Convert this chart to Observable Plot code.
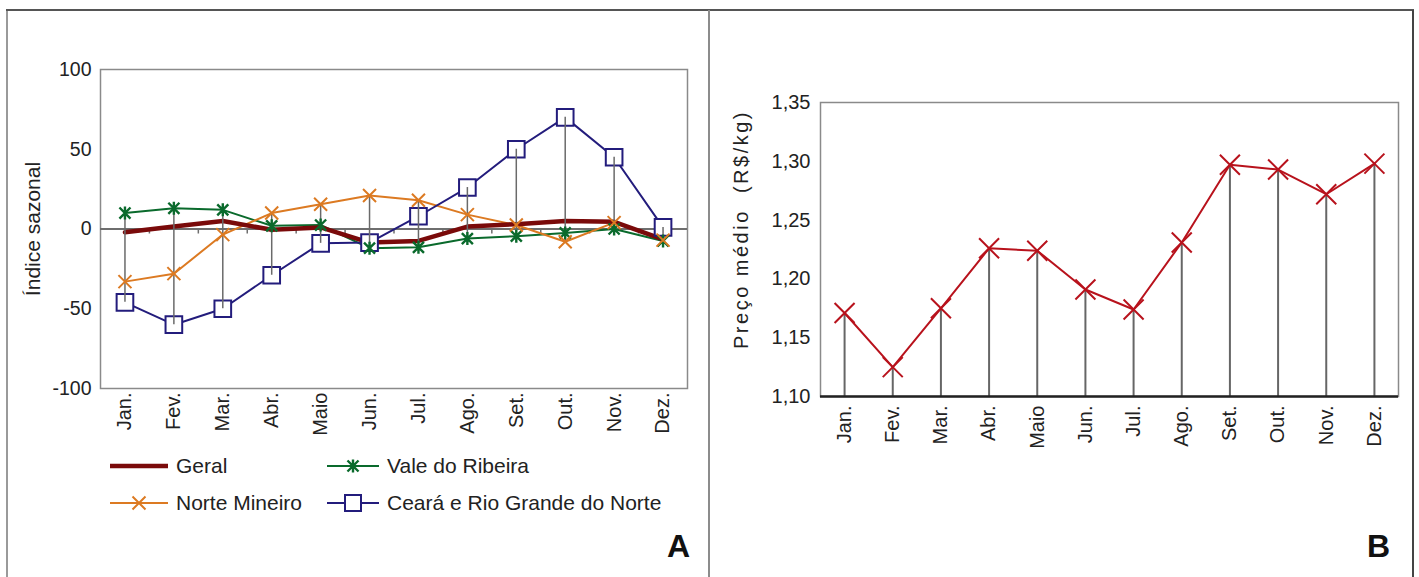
<!DOCTYPE html>
<html lang="pt">
<head>
<meta charset="utf-8">
<script src="https://cdn.jsdelivr.net/npm/d3@7"></script>
<script src="https://cdn.jsdelivr.net/npm/@observablehq/plot@0.6"></script>
<style>
  body { margin: 0; background: #fff; font-family: "Liberation Sans", Arial, sans-serif; color: #222; }
  #wrap { position: relative; width: 1419px; height: 577px; overflow: hidden; }
  .abs { position: absolute; }
  .line { position: absolute; }
  .legend-item { position: absolute; display: flex; align-items: center; font-size: 21px; white-space: nowrap; color: #222; }
  .legend-item svg { display: block; margin-right: 8px; }
  .painel { position: absolute; font-family: "Liberation Sans Narrow", "Liberation Sans", Arial, sans-serif; font-weight: bold; font-size: 32px; color: #111; }
</style>
</head>
<body>
<div id="wrap"></div>
<script>
// Meses e índices sazonais por região (painel A)
const meses = ["Jan.", "Fev.", "Mar.", "Abr.", "Maio", "Jun.", "Jul.", "Ago.", "Set.", "Out.", "Nov.", "Dez."];
const geral = [-2, 1.5, 5, -0.5, 1, -8.5, -7.5, 1.5, 3, 5, 4.5, -6.5];
const valeRibeira = [10, 13, 12, 2, 2.5, -12, -11.5, -6, -4.5, -2.5, 0, -7.5];
const norteMineiro = [-33, -28, -3.5, 10, 15.5, 21, 18, 9, 2.5, -8, 4, -7];
const cearaRN = [-46, -60, -50, -29, -9, -8.5, 8, 26, 50, 70, 45, 1];
const ticksIndice = [-100, -50, 0, 50, 100];

// Preço médio mensal (painel B)
const precoMedio = [1.171, 1.125, 1.175, 1.226, 1.224, 1.191, 1.174, 1.231, 1.297, 1.293, 1.272, 1.298];
const ticksPreco = [1.10, 1.15, 1.20, 1.25, 1.30, 1.35];

const series = [
  {nome: "Geral", valores: geral, cor: "#7a0a0a"},
  {nome: "Vale do Ribeira", valores: valeRibeira, cor: "#0a6a2c"},
  {nome: "Norte Mineiro", valores: norteMineiro, cor: "#dc7a22"},
  {nome: "Ceará e Rio Grande do Norte", valores: cearaRN, cor: "#231c7c"}
];

// Tabela longa: uma linha por mês e série
const tabela = series.flatMap(s => s.valores.map((v, i) => ({mes: i + 1, serie: s.nome, valor: v})));
const porSerie = nome => tabela.filter(d => d.serie === nome);

// Linhas máximo-mínimo por mês
const extremos = meses.map((m, i) => {
  const vs = series.map(s => s.valores[i]);
  return {mes: i + 1, min: d3.min(vs), max: d3.max(vs)};
});

const precoTabela = precoMedio.map((p, i) => ({mes: i + 1, preco: p}));

// Símbolos próprios: asterisco (cruz + X) e X simples
const asterisco = {
  draw(ctx, size) {
    const r = Math.sqrt(size / Math.PI), d = r * 0.85;
    ctx.moveTo(0, -r); ctx.lineTo(0, r);
    ctx.moveTo(-d, -d); ctx.lineTo(d, d);
    ctx.moveTo(-d, d); ctx.lineTo(d, -d);
  }
};
const xis = {
  draw(ctx, size) {
    const r = Math.sqrt(size / Math.PI);
    ctx.moveTo(-r, -r); ctx.lineTo(r, r);
    ctx.moveTo(-r, r); ctx.lineTo(r, -r);
  }
};

const fonte = "'Liberation Sans', Arial, sans-serif";
const mesFmt = i => meses[i - 1];
const virgula = d => d.toFixed(2).replace(".", ",");

const wrap = document.getElementById("wrap");

// Painel A
const graficoA = Plot.plot({
  width: 710, height: 577,
  marginLeft: 100, marginRight: 23, marginTop: 69, marginBottom: 189,
  style: {fontFamily: fonte, fontSize: "19px", color: "#222", background: "transparent", overflow: "visible"},
  x: {domain: [0.5, 12.5]},
  y: {domain: [-100, 100]},
  marks: [
    Plot.frame({stroke: "#8a8a8a", strokeWidth: 1.5}),
    Plot.ruleY([0], {stroke: "#6e6e6e", strokeWidth: 2}),
    Plot.ruleX(d3.range(1, 12).map(i => i + 0.5), {x: d => d, y1: 0, y2: 0, insetBottom: -5, stroke: "#6e6e6e", strokeWidth: 1.5}),
    Plot.axisY({ticks: ticksIndice, tickSize: 0, tickPadding: 9, tickFormat: d => String(d), label: null, fontSize: 19.5}),
    Plot.axisX({ticks: d3.range(1, 13), tickSize: 0, tickPadding: 4, tickRotate: -90, tickFormat: mesFmt, label: null, fontSize: 20}),
    Plot.text(["Índice sazonal"], {frameAnchor: "left", textAnchor: "middle", rotate: -90, dx: -67, fontSize: 21, fill: "#222"}),
    Plot.line(porSerie("Vale do Ribeira"), {x: "mes", y: "valor", stroke: series[1].cor, strokeWidth: 2}),
    Plot.line(porSerie("Norte Mineiro"), {x: "mes", y: "valor", stroke: series[2].cor, strokeWidth: 2}),
    Plot.line(porSerie("Ceará e Rio Grande do Norte"), {x: "mes", y: "valor", stroke: series[3].cor, strokeWidth: 2}),
    Plot.line(porSerie("Geral"), {x: "mes", y: "valor", stroke: series[0].cor, strokeWidth: 4.5}),
    Plot.dot(porSerie("Ceará e Rio Grande do Norte"), {x: "mes", y: "valor", symbol: "square", r: 9.4, fill: "#fff", stroke: series[3].cor, strokeWidth: 2}),
    Plot.ruleX(extremos, {x: "mes", y1: "min", y2: "max", stroke: "#6a6a6a", strokeWidth: 1.5}),
    Plot.dot(porSerie("Vale do Ribeira"), {x: "mes", y: "valor", symbol: asterisco, r: 6.5, stroke: series[1].cor, strokeWidth: 2.4}),
    Plot.dot(porSerie("Norte Mineiro"), {x: "mes", y: "valor", symbol: xis, r: 6.5, stroke: series[2].cor, strokeWidth: 2})
  ]
});
graficoA.classList.add("abs");
graficoA.style.left = "0px"; graficoA.style.top = "0px";
wrap.appendChild(graficoA);

// Painel B
const tituloPreco = "Preço médio  (R$/kg)";
const graficoB = Plot.plot({
  width: 709, height: 577,
  marginLeft: 110, marginRight: 21, marginTop: 102, marginBottom: 181,
  style: {fontFamily: fonte, fontSize: "19px", color: "#222", background: "transparent", overflow: "visible"},
  x: {domain: [0.5, 12.5]},
  y: {domain: [ticksPreco[0], ticksPreco[ticksPreco.length - 1]]},
  marks: [
    Plot.frame({stroke: "#8a8a8a", strokeWidth: 1.5}),
    Plot.ruleX(precoTabela, {x: "mes", y1: ticksPreco[0], y2: "preco", stroke: "#666", strokeWidth: 2}),
    Plot.ruleY([ticksPreco[0]], {stroke: "#222", strokeWidth: 2.5}),
    Plot.axisY({ticks: ticksPreco, tickSize: 0, tickPadding: 10, tickFormat: virgula, label: null, fontSize: 20}),
    Plot.axisX({ticks: d3.range(1, 13), tickSize: 0, tickPadding: 9, tickRotate: -90, tickFormat: mesFmt, label: null, fontSize: 20}),
    Plot.text([tituloPreco], {frameAnchor: "left", textAnchor: "middle", rotate: -90, dx: -79, dy: -20, fontSize: 20, fill: "#222"}),
    Plot.line(precoTabela, {x: "mes", y: "preco", stroke: "#b8121c", strokeWidth: 2}),
    Plot.dot(precoTabela, {x: "mes", y: "preco", symbol: xis, r: 10, stroke: "#b8121c", strokeWidth: 2})
  ]
});
// Título do eixo com espaçamento entre letras
d3.select(graficoB).selectAll("text")
  .filter(function() { return this.textContent === tituloPreco; })
  .attr("letter-spacing", "2.5")
  .attr("xml:space", "preserve")
  .style("letter-spacing", "2.5px")
  .style("white-space", "pre");
graficoB.classList.add("abs");
graficoB.style.left = "710px"; graficoB.style.top = "0px";
wrap.appendChild(graficoB);

// Moldura externa dos painéis
const linhas = [
  {left: 6, top: 10, width: 2, height: 567, bg: "#9a9a9a"},
  {left: 6, top: 9, width: 1408, height: 2, bg: "#555"},
  {left: 708, top: 10, width: 2, height: 567, bg: "#8c8c8c"},
  {left: 1412, top: 10, width: 2, height: 567, bg: "#444"}
];
for (const l of linhas) {
  const div = document.createElement("div");
  div.className = "line";
  Object.assign(div.style, {left: l.left + "px", top: l.top + "px", width: l.width + "px", height: l.height + "px", background: l.bg});
  wrap.appendChild(div);
}

// Legenda do painel A
const legenda = [
  {serie: series[0], left: 110, top: 466, marcador: null, larg: 4.5},
  {serie: series[1], left: 327, top: 466, marcador: "asterisco", larg: 2},
  {serie: series[2], left: 110, top: 503, marcador: "xis", larg: 2},
  {serie: series[3], left: 327, top: 503, marcador: "quadrado", larg: 2}
];
for (const item of legenda) {
  const div = document.createElement("div");
  div.className = "legend-item";
  div.style.left = item.left + "px";
  div.style.top = (item.top - 14) + "px";
  div.style.height = "28px";
  const w = item.left === 110 ? 58 : 52;
  const svg = d3.create("svg").attr("width", w).attr("height", 28);
  svg.append("line").attr("x1", 0).attr("x2", w).attr("y1", 14).attr("y2", 14)
    .attr("stroke", item.serie.cor).attr("stroke-width", item.larg);
  const cx = w / 2, c = item.serie.cor;
  if (item.marcador === "asterisco") {
    const r = 6.5, d = r * 0.85;
    svg.append("path").attr("d", `M${cx},${14 - r}V${14 + r}M${cx - d},${14 - d}L${cx + d},${14 + d}M${cx - d},${14 + d}L${cx + d},${14 - d}`)
      .attr("stroke", c).attr("stroke-width", 2.4).attr("fill", "none");
  } else if (item.marcador === "xis") {
    const r = 6.5;
    svg.append("path").attr("d", `M${cx - r},${14 - r}L${cx + r},${14 + r}M${cx - r},${14 + r}L${cx + r},${14 - r}`)
      .attr("stroke", c).attr("stroke-width", 2).attr("fill", "none");
  } else if (item.marcador === "quadrado") {
    svg.append("rect").attr("x", cx - 8).attr("y", 6).attr("width", 16).attr("height", 16)
      .attr("fill", "#fff").attr("stroke", c).attr("stroke-width", 2);
  }
  div.appendChild(svg.node());
  const span = document.createElement("span");
  span.textContent = item.serie.nome;
  div.appendChild(span);
  wrap.appendChild(div);
}

// Letras dos painéis
for (const [letra, left] of [["A", 667], ["B", 1367]]) {
  const div = document.createElement("div");
  div.className = "painel";
  div.textContent = letra;
  div.style.left = left + "px";
  div.style.top = "528px";
  wrap.appendChild(div);
}
</script>
</body>
</html>
